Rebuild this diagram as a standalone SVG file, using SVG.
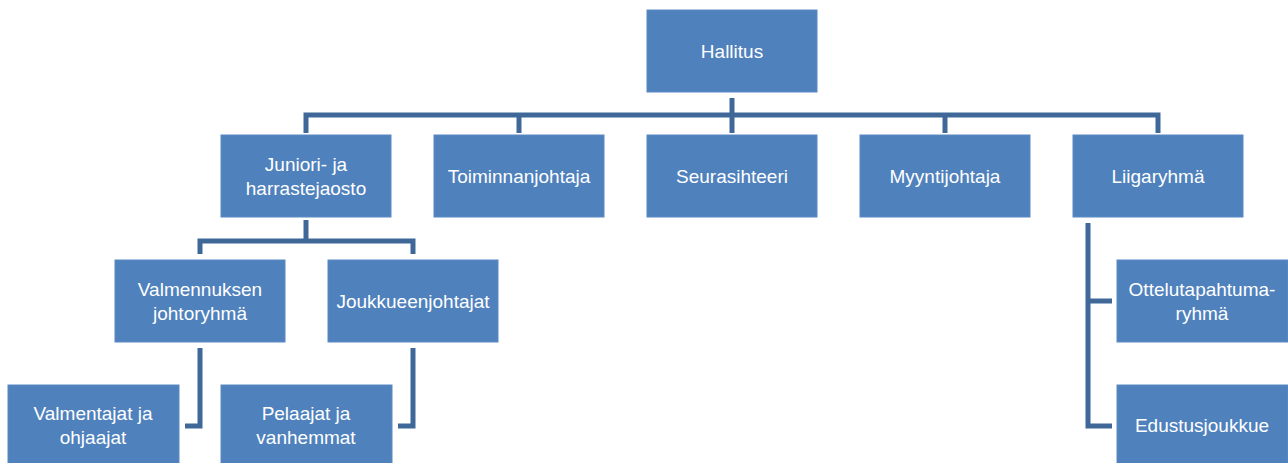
<svg xmlns="http://www.w3.org/2000/svg" width="1288" height="463" viewBox="0 0 1288 463">
<style>
.box{fill:#4f81bd;stroke:#5a8ac4;stroke-width:1}
.t{fill:#ffffff;font-family:"Liberation Sans",Arial,sans-serif;font-size:19px;text-anchor:middle}
.c{fill:none;stroke:#3f6899;stroke-width:5;stroke-linejoin:miter;stroke-linecap:butt}
</style>
<rect width="1288" height="463" fill="#ffffff"/>
<g id="connectors">
<path class="c" d="M732 98 V133"/>
<path class="c" d="M306 133 V115 H1158 V133"/>
<path class="c" d="M519 115 V133"/>
<path class="c" d="M945 115 V133"/>
<path class="c" d="M306 220 V241"/>
<path class="c" d="M200 254 V241 H413 V254"/>
<path class="c" d="M200 348 V426 H185"/>
<path class="c" d="M413 348 V426 H398"/>
<path class="c" d="M1088 223 V426 H1112"/>
<path class="c" d="M1088 301 H1112"/>
</g>
<g id="hallitus"><rect class="box" x="647" y="10" width="170" height="82"/><text class="t" x="732" y="58">Hallitus</text></g>
<g id="juniori"><rect class="box" x="221" y="135" width="170" height="82"/><text class="t" x="306" y="171">Juniori- ja</text><text class="t" x="306" y="195">harrastejaosto</text></g>
<g id="toiminnanjohtaja"><rect class="box" x="434" y="135" width="170" height="82"/><text class="t" x="519" y="183">Toiminnanjohtaja</text></g>
<g id="seurasihteeri"><rect class="box" x="647" y="135" width="170" height="82"/><text class="t" x="732" y="183">Seurasihteeri</text></g>
<g id="myyntijohtaja"><rect class="box" x="860" y="135" width="170" height="82"/><text class="t" x="945" y="183">Myyntijohtaja</text></g>
<g id="liigaryhma"><rect class="box" x="1073" y="135" width="170" height="82"/><text class="t" x="1158" y="183">Liigaryhmä</text></g>
<g id="valmennuksen"><rect class="box" x="115" y="260" width="170" height="82"/><text class="t" x="200" y="296">Valmennuksen</text><text class="t" x="200" y="320">johtoryhmä</text></g>
<g id="joukkueenjohtajat"><rect class="box" x="328" y="260" width="170" height="82"/><text class="t" x="413" y="308">Joukkueenjohtajat</text></g>
<g id="valmentajat"><rect class="box" x="8" y="385" width="171" height="84"/><text class="t" x="93" y="420">Valmentajat ja</text><text class="t" x="93" y="444">ohjaajat</text></g>
<g id="pelaajat"><rect class="box" x="221" y="385" width="171" height="84"/><text class="t" x="306" y="420">Pelaajat ja</text><text class="t" x="306" y="444">vanhemmat</text></g>
<g id="ottelutapahtuma"><rect class="box" x="1117" y="260" width="171" height="82"/><text class="t" x="1202" y="296">Ottelutapahtuma-</text><text class="t" x="1202" y="320">ryhmä</text></g>
<g id="edustusjoukkue"><rect class="box" x="1117" y="385" width="171" height="84"/><text class="t" x="1202" y="432">Edustusjoukkue</text></g>
</svg>
